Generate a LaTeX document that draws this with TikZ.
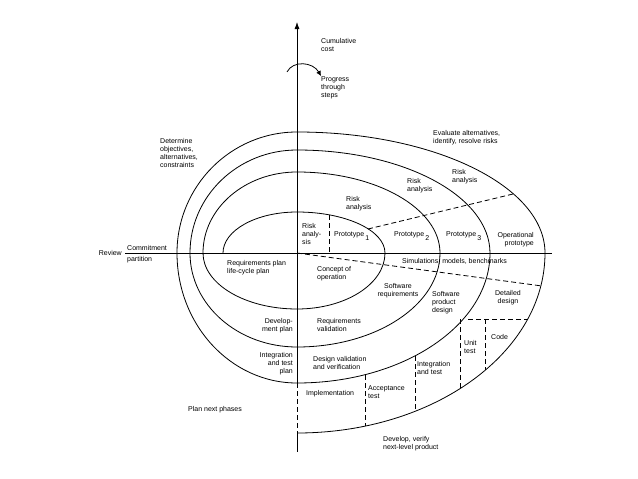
\documentclass[tikz,border=0pt]{standalone}
\usepackage{fontspec}
\setmainfont{Liberation Sans}
\usetikzlibrary{arrows.meta}
\begin{document}
\begin{tikzpicture}[x=1pt,y=-1pt,
  lbl/.style={inner sep=0pt,font=\fontsize{7}{8.2}\selectfont,align=left},
  lblr/.style={lbl,align=right},
  lblc/.style={lbl,align=center},
  line/.style={line width=0.8pt},
  dsh/.style={line width=0.8pt,dash pattern=on 5pt off 3pt}]
\useasboundingbox (0,0) rectangle (638,479);
\coordinate (O) at (297,253);
\coordinate (axtop) at (297,22);
\coordinate (axbot) at (297,452);
\coordinate (axl) at (125,253);
\coordinate (axr) at (552,253);
% axes
\draw[line,-{Latex[length=7pt,width=5pt]}] (O) -- (axtop);
\draw[line] (O) -- (297,383);
\draw[dsh] (297,383) -- (297,433);
\draw[line] (297,433) -- (axbot);
\draw[line] (axl) -- (axr);
% spiral
\draw[line] (223,253)
  arc[start angle=180,end angle=270,x radius=74,y radius=41]
  arc[start angle=270,end angle=360,x radius=88,y radius=41]
  arc[start angle=0,end angle=90,x radius=88,y radius=56]
  arc[start angle=90,end angle=180,x radius=94,y radius=56]
  arc[start angle=180,end angle=270,x radius=94,y radius=81]
  arc[start angle=270,end angle=360,x radius=143,y radius=81]
  arc[start angle=0,end angle=90,x radius=143,y radius=94]
  arc[start angle=90,end angle=180,x radius=107,y radius=94]
  arc[start angle=180,end angle=270,x radius=107,y radius=103]
  arc[start angle=270,end angle=360,x radius=193,y radius=103]
  arc[start angle=0,end angle=90,x radius=193,y radius=130]
  arc[start angle=90,end angle=180,x radius=120,y radius=130]
  arc[start angle=180,end angle=270,x radius=120,y radius=121]
  arc[start angle=270,end angle=360,x radius=248,y radius=121]
  arc[start angle=0,end angle=90,x radius=248,y radius=180];
% dashed lines
\coordinate (d1a) at (368,229); \coordinate (d1b) at (513,194);
\draw[dsh] (d1a) -- (d1b);
\coordinate (d2b) at (542,286);
\draw[dsh] (O) -- (d2b);
\coordinate (v0a) at (329,215); \coordinate (v0b) at (329,253);
\draw[dsh] (v0a) -- (v0b);
\coordinate (h1a) at (468,319); \coordinate (h1b) at (528,319);
\draw[dsh] (h1a) -- (h1b);
\coordinate (v1a) at (460,319); \coordinate (v1b) at (460,389);
\draw[dsh] (v1a) -- (v1b);
\coordinate (v2a) at (485,319); \coordinate (v2b) at (485,370);
\draw[dsh] (v2a) -- (v2b);
\coordinate (v3a) at (415,356); \coordinate (v3b) at (415,411);
\draw[dsh] (v3a) -- (v3b);
\coordinate (v4a) at (365,375); \coordinate (v4b) at (365,426);
\draw[dsh] (v4a) -- (v4b);
% progress arrow
\coordinate (pa) at (287,72); \coordinate (pb) at (321,76);
\draw[line,-{Latex[length=5pt,width=5pt]}] (pa) .. controls (293,60) and (313,62) .. (pb);
% labels
\node[lbl,anchor=north west] (cc) at (321,38) {Cumulative\\cost};
\node[lbl,anchor=north west] (pt) at (321,76) {Progress\\through\\steps};
\node[lbl,anchor=north west] (det) at (160,138) {Determine\\objectives,\\alternatives,\\constraints};
\node[lbl,anchor=north west] (ev) at (433,130) {Evaluate alternatives,\\identify, resolve risks};
\node[lbl,anchor=north west] (ra4) at (452,169) {Risk\\analysis};
\node[lbl,anchor=north west] (ra3) at (407,178) {Risk\\analysis};
\node[lbl,anchor=north west] (ra2) at (346,196) {Risk\\analysis};
\node[lbl,anchor=north west] (ra1) at (302,223) {Risk\\analy-\\sis};
\node[lbl,anchor=west] (p1) at (334,236) {Prototype\raisebox{-4pt}{\,1}};
\node[lbl,anchor=west] (p2) at (394,236) {Prototype\raisebox{-4pt}{\,2}};
\node[lbl,anchor=west] (p3) at (446,236) {Prototype\raisebox{-4pt}{\,3}};
\node[lblr,anchor=north east] (op) at (534,232) {Operational\\prototype};
\node[lbl,anchor=west] (sim) at (402,261) {Simulations, models, benchmarks};
\node[lbl,anchor=north west] (rp) at (227,260) {Requirements plan\\life-cycle plan};
\node[lbl,anchor=north west] (co) at (317,266) {Concept of\\operation};
\node[lblc,anchor=north] (sr) at (398,283) {Software\\requirements};
\node[lbl,anchor=north west] (spd) at (432,291) {Software\\product\\design};
\node[lblc,anchor=north] (dd) at (508,290) {Detailed\\design};
\node[lblr,anchor=north east] (dp) at (293,318) {Develop-\\ment plan};
\node[lbl,anchor=north west] (rv) at (317,318) {Requirements\\validation};
\node[lbl,anchor=west] (code) at (491,337) {Code};
\node[lbl,anchor=north west] (ut) at (464,340) {Unit\\test};
\node[lblr,anchor=north east] (itp) at (293,352) {Integration\\and test\\plan};
\node[lbl,anchor=north west] (dvv) at (313,356) {Design validation\\and verification};
\node[lbl,anchor=north west] (it) at (417,361) {Integration\\and test};
\node[lbl,anchor=west] (imp) at (306,394) {Implementation};
\node[lbl,anchor=north west] (at) at (368,385) {Acceptance\\test};
\node[lbl,anchor=west] (pnp) at (188,410) {Plan next phases};
\node[lbl,anchor=north west] (dv) at (383,436) {Develop, verify\\next-level product};
\node[lbl,anchor=east] (rev) at (122,253) {Review};
\node[lbl,anchor=south west] (cm) at (127,251) {Commitment};
\node[lbl,anchor=north west] (par) at (127,256) {partition};
\end{tikzpicture}
\end{document}
